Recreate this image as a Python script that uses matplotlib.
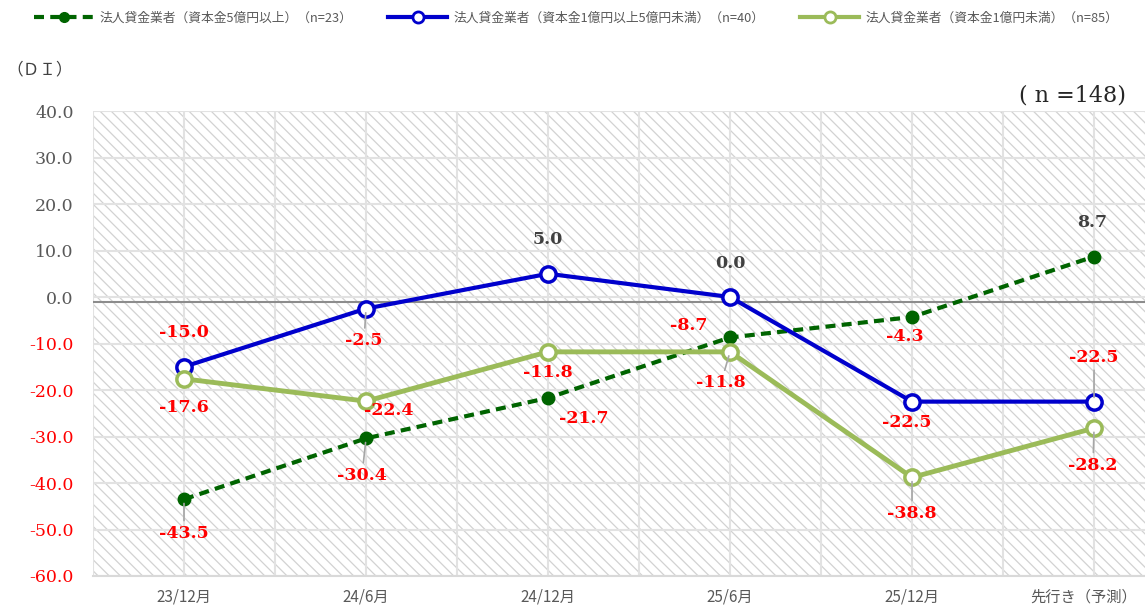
import matplotlib
matplotlib.use('Agg')
import matplotlib.pyplot as plt
from matplotlib.patches import Rectangle
from matplotlib.lines import Line2D
from matplotlib.transforms import ScaledTranslation

plt.rcParams['font.family'] = ['Noto Sans CJK JP', 'DejaVu Sans']
plt.rcParams['hatch.linewidth'] = 0.9

# data
periods = ['23/12月', '24/6月', '24/12月', '25/6月', '25/12月', '先行き（予測）']
large = [-43.5, -30.4, -21.7, -8.7, -4.3, 8.7]
mid = [-15.0, -2.5, 5.0, 0.0, -22.5, -22.5]
small = [-17.6, -22.4, -11.8, -11.8, -38.8, -28.2]
names = ['法人貸金業者（資本金5億円以上）（n=23）',
         '法人貸金業者（資本金1億円以上5億円未満）（n=40）',
         '法人貸金業者（資本金1億円未満）（n=85）']
yticks = [-60, -50, -40, -30, -20, -10, 0, 10, 20, 30, 40]
total_n = 148

# label offsets in pixels (dx, dy up) and whether a leader line is drawn
off_large = [(0, -34), (-4, -37), (36, -21), (-41, 12), (-7, -20), (-2, 34)]
lead_large = [True, True, False, False, False, False]
off_mid = [(0, 34), (-2, -32), (0, 34), (0, 34), (-5, -21), (0, 44)]
lead_mid = [False, True, False, False, False, True]
off_small = [(0, -29), (23, -9), (0, -21), (-9, -31), (0, -36), (-1, -37)]
lead_small = [False, False, False, True, True, True]

W, H = 1145, 610
fig = plt.figure(figsize=(W / 100, H / 100), dpi=100)
ax = fig.add_axes([93 / W, 34 / H, 1 - 93 / W, 465 / H])

x = list(range(len(periods)))

ax.add_patch(Rectangle((0, 0), 1, 1, transform=ax.transAxes, facecolor='white',
                       edgecolor='#d2d2d2', hatch='\\\\\\', lw=0, zorder=0))
ax.set_axisbelow(True)
ax.set_xticks(x)
ax.set_xticks([i - 0.5 for i in range(7)], minor=True)
ax.grid(which='both', axis='x', color='#e2e2e2', lw=1.5)
ax.set_yticks(yticks)
ax.grid(which='major', axis='y', color='#e2e2e2', lw=1.5)
ax.tick_params(which='both', length=0)
ax.tick_params(axis='x', pad=9)
ax.tick_params(axis='y', pad=14)
ax.set_xlim(-0.5, 5.28)
ax.set_ylim(-60, 40)

for s in ['top', 'right', 'left']:
    ax.spines[s].set_visible(False)
ax.spines['bottom'].set_color('#d9d9d9')
ax.spines['bottom'].set_linewidth(1.5)

ax.set_xticklabels(periods, fontsize=11, color='#595959')
last = ax.get_xticklabels()[-1]
last.set_transform(last.get_transform() + ScaledTranslation(-0.1, 0, fig.dpi_scale_trans))
ax.set_yticklabels([f'{v:.1f}' for v in yticks], family='DejaVu Serif', fontsize=12.5)
for lab, v in zip(ax.get_yticklabels(), yticks):
    lab.set_color('#FF0000' if v < 0 else '#595959')

ax.axhline(-1.1, color='#8c8c8c', lw=1.5, zorder=1)

ax.plot(x, large, color='#006400', lw=3, ls=(0, (2.4, 1.5)), marker='o', ms=9,
        mfc='#006400', mec='#006400', zorder=3)
ax.plot(x, mid, color='#0000CC', lw=3, marker='o', ms=11, mfc='white',
        mec='#0000CC', mew=2.5, zorder=4)
ax.plot(x, small, color='#9BBB59', lw=3.5, marker='o', ms=11, mfc='white',
        mec='#9BBB59', mew=2.5, zorder=5)


def put_labels(vals, offs, leads):
    for i, v in enumerate(vals):
        dx, dy = offs[i]
        txt = f'{v:.1f}'
        col = '#FF0000' if v < 0 else '#404040'
        ap = None
        if leads[i]:
            ap = dict(arrowstyle='-', color='#a6a6a6', lw=1.2, shrinkA=1, shrinkB=3)
        ax.annotate(txt, (i, v), xytext=(dx, dy), textcoords='offset pixels',
                    ha='center', va='center', color=col, fontsize=12.5,
                    family='DejaVu Serif', fontweight='bold', arrowprops=ap, zorder=6)


put_labels(large, off_large, lead_large)
put_labels(mid, off_mid, lead_mid)
put_labels(small, off_small, lead_small)

handles = [
    Line2D([], [], color='#006400', lw=3, ls=(0, (2.4, 1.5)), marker='o', ms=7, mfc='#006400'),
    Line2D([], [], color='#0000CC', lw=3, marker='o', ms=8, mfc='white', mew=2),
    Line2D([], [], color='#9BBB59', lw=3, marker='o', ms=8, mfc='white', mew=2),
]
leg = fig.legend(handles, names, loc='center left', bbox_to_anchor=(0.02, 0.97), ncol=3,
                 frameon=False, fontsize=9.2, handlelength=4.6, columnspacing=2.8,
                 handletextpad=0.5)
for t in leg.get_texts():
    t.set_color('#595959')

fig.text(0.006, 0.885, '（ＤＩ）', fontsize=12, color='#404040', va='center')
fig.text(0.983, 0.844, f'( n ={total_n})', fontsize=16, color='#262626',
         family='DejaVu Serif', ha='right', va='center')

fig.savefig('out.png', dpi=100)
